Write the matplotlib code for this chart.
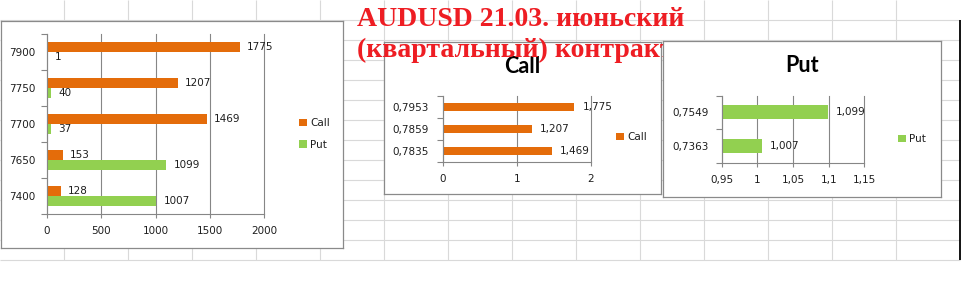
import numpy as np
import matplotlib
matplotlib.use('Agg')
import matplotlib.pyplot as plt
from matplotlib.ticker import MultipleLocator, FuncFormatter, FixedLocator

# chart 1: open interest by strike
strikes = ['7400', '7650', '7700', '7750', '7900']
call_oi = [128, 153, 1469, 1207, 1775]
put_oi = [1007, 1099, 37, 40, 1]

# chart 2: Call
call_strikes = ['0,7835', '0,7859', '0,7953']
call_vals = [1.469, 1.207, 1.775]

# chart 3: Put
put_strikes = ['0,7363', '0,7549']
put_vals = [1.007, 1.099]

title_lines = ['AUDUSD 21.03. июньский', '(квартальный) контракт']

ORANGE = '#e46c0a'
GREEN = '#92d050'
AXIS = '#868686'
FRAME = '#8a8a8a'
TXT = '#1e1e1e'
RED = '#ee1d23'

W, H = 961, 301
plt.rcParams['font.family'] = 'DejaVu Sans'
plt.rcParams['font.size'] = 7.5

fig = plt.figure(figsize=(W / 100, H / 100), dpi=100)


def box(x0, y0, x1, y1):
    # pixel rect (top-left origin) -> figure fraction
    return [x0 / W, 1 - y1 / H, (x1 - x0) / W, (y1 - y0) / H]


def comma(v, pos=None):
    return ('%g' % round(v, 4)).replace('.', ',')


# excel sheet grid behind everything
bg = fig.add_axes([0, 0, 1, 1], zorder=0)
bg.set_xlim(0, W)
bg.set_ylim(H, 0)
bg.axis('off')
bg.hlines(np.arange(20, 261, 20), 0, 960, color='#d9d9d9', lw=0.8)
bg.vlines(np.arange(64, 960, 64), 0, 260, color='#d9d9d9', lw=0.8)
bg.vlines(960, 20, 260, color='black', lw=1.3)


def frame(rect, z):
    f = fig.add_axes(box(*rect), zorder=z)
    f.set_xticks([])
    f.set_yticks([])
    for s in f.spines.values():
        s.set_color(FRAME)
        s.set_linewidth(0.9)
    return f


def plot_axes(rect, z, ypad):
    ax = fig.add_axes(box(*rect), zorder=z)
    ax.patch.set_alpha(0)
    for s in ['top', 'right']:
        ax.spines[s].set_visible(False)
    for s in ['left', 'bottom']:
        ax.spines[s].set_color(AXIS)
        ax.spines[s].set_linewidth(0.8)
    ax.grid(axis='x', color=AXIS, lw=0.8)
    ax.set_axisbelow(True)
    ax.tick_params(axis='x', length=3, width=0.8, color=AXIS, pad=5.8, labelcolor=TXT)
    ax.tick_params(axis='y', which='major', length=0, pad=ypad, labelcolor=TXT)
    ax.tick_params(axis='y', which='minor', length=4.3, width=0.8, color=AXIS)
    return ax


def unclip_grid(ax):
    # keep the last gridline (on the axes edge) fully visible
    for gl in ax.get_xgridlines():
        gl.set_clip_on(False)


def legend(ax, handles, labels, x, y):
    ax.legend(handles, labels, loc='center left', bbox_to_anchor=(x / W, 1 - y / H),
              bbox_transform=fig.transFigure, frameon=False, borderpad=0,
              borderaxespad=0, handlelength=0.75, handleheight=0.75,
              handletextpad=0.3, labelspacing=1.1, fontsize=7.5, labelcolor=TXT)


# ---- chart 1 ----
frame((1, 20.5, 343, 248), 1)
ax1 = plot_axes((46.7, 34, 264.3, 214), 2, 7.9)
y = np.arange(len(strikes))
c1 = ax1.barh(y + 0.145, call_oi, height=0.29, color=ORANGE)
p1 = ax1.barh(y - 0.145, put_oi, height=0.29, color=GREEN)
ax1.bar_label(c1, fmt='%d', padding=5, fontsize=7.5, color=TXT)
ax1.bar_label(p1, fmt='%d', padding=5.5, fontsize=7.5, color=TXT)
ax1.set_xlim(0, 2000)
ax1.set_ylim(-0.5, len(strikes) - 0.5)
ax1.set_xticks(np.arange(0, 2001, 500))
ax1.set_yticks(y, strikes)
ax1.yaxis.set_minor_locator(FixedLocator(np.arange(-0.5, len(strikes), 1)))
legend(ax1, [c1, p1], ['Call', 'Put'], 299, 134)

# ---- chart 2: Call ----
frame((384.3, 41.7, 661, 194), 3)
ax2 = plot_axes((442.7, 95.7, 591, 161.7), 4, 9.9)
y2 = np.arange(len(call_strikes))
c2 = ax2.barh(y2, call_vals, height=0.38, color=ORANGE)
ax2.bar_label(c2, fmt=lambda v: '%.3f' % v, padding=5.8, fontsize=7.5, color=TXT)
for t in ax2.texts:
    t.set_text(t.get_text().replace('.', ','))
ax2.set_xlim(0, 2)
ax2.set_ylim(-0.5, len(call_strikes) - 0.5)
ax2.xaxis.set_major_locator(MultipleLocator(1))
ax2.set_yticks(y2, call_strikes)
ax2.yaxis.set_minor_locator(FixedLocator(np.arange(-0.5, len(call_strikes), 1)))
legend(ax2, [c2], ['Call'], 616, 137)
fig.text(522.7 / W, 1 - 73.3 / H, 'Call', ha='center', va='baseline',
         family='Lato', weight='bold', fontsize=15.5, color='black', zorder=4.5)

# big red heading, over chart 2 but under chart 3
fig.text(356.7 / W, 1 - 26 / H, title_lines[0], family='Liberation Serif',
         weight='bold', fontsize=20, color=RED, va='baseline', zorder=5)
fig.text(356.7 / W, 1 - 57.3 / H, title_lines[1], family='Liberation Serif',
         weight='bold', fontsize=20, color=RED, va='baseline', zorder=5)

# ---- chart 3: Put ----
frame((663.3, 40.7, 940.7, 196.7), 6)
ax3 = plot_axes((721.7, 95.7, 864.3, 162.7), 7, 9.6)
y3 = np.arange(len(put_strikes))
base = 0.95
p3 = ax3.barh(y3, np.array(put_vals) - base, left=base, height=0.42, color=GREEN)
ax3.bar_label(p3, labels=['%.3f' % v for v in put_vals], padding=5.4, fontsize=7.5, color=TXT)
for t in ax3.texts:
    t.set_text(t.get_text().replace('.', ','))
ax3.set_xlim(0.95, 1.15)
ax3.set_ylim(-0.5, len(put_strikes) - 0.5)
ax3.xaxis.set_major_locator(MultipleLocator(0.05))
ax3.xaxis.set_major_formatter(FuncFormatter(comma))
ax3.set_yticks(y3, put_strikes)
ax3.yaxis.set_minor_locator(FixedLocator(np.arange(-0.5, len(put_strikes), 1)))
legend(ax3, [p3], ['Put'], 898, 139)
fig.text(801.7 / W, 1 - 72.3 / H, 'Put', ha='center', va='baseline',
         family='Lato', weight='bold', fontsize=15.5, color='black', zorder=7.5)

for a in (ax1, ax2, ax3):
    unclip_grid(a)

fig.savefig('out.png', dpi=100)
